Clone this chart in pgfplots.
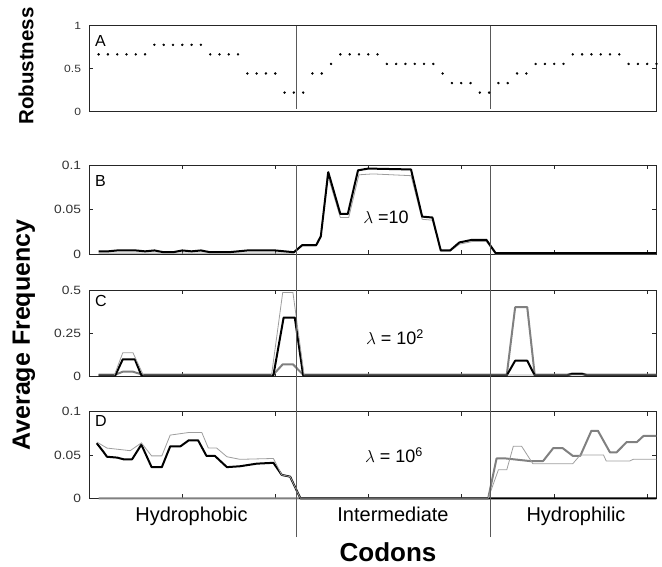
\documentclass[border=0pt]{standalone}
\usepackage{pgfplots}
\pgfplotsset{compat=1.18}
\usepackage{fontspec}
\setmainfont{Liberation Sans}
\definecolor{lg}{gray}{0.62}
\definecolor{mg}{gray}{0.5}
\tikzset{sep/.style={black!65, line width=0.8pt}}
\pgfplotsset{
  panel/.style={
    scale only axis, width=567.2pt, xmin=0, xmax=61, clip=false,
    anchor=north west,
    axis line style={line width=1pt, black!85},
    every tick/.style={black!85, line width=0.8pt},
    major tick length=4pt,
    tick align=inside,
    xtick={10,20,30,40,50,60}, xticklabels={},
    xtick pos=both, ytick pos=both, yticklabel pos=left,
    /pgf/number format/assume math mode=true,
    yticklabel style={font=\fontsize{12}{12}\selectfont, text=black!80, xscale=1.15, inner xsep=0pt, xshift=-7pt},
  },
}
\begin{document}
\begin{tikzpicture}
\useasboundingbox (0pt,0pt) rectangle (662pt,-566pt);
% ---------------- A
\begin{axis}[panel, at={(89.3pt,-25.7pt)}, height=86pt, ymin=0, ymax=1,
  ytick={0,0.5,1}, yticklabels={0,0.5,1}, xtick=\empty,
  yticklabel style={font=\fontsize{10.5}{10.5}\selectfont}]
\addplot[only marks, mark=*, mark size=1pt, black] coordinates {
(1,0.6667)(2,0.6667)(3,0.6667)(4,0.6667)(5,0.6667)(6,0.6667)
(7,0.7778)(8,0.7778)(9,0.7778)(10,0.7778)(11,0.7778)(12,0.7778)
(13,0.6667)(14,0.6667)(15,0.6667)(16,0.6667)
(17,0.4444)(18,0.4444)(19,0.4444)(20,0.4444)
(21,0.2222)(22,0.2222)(23,0.2222)
(24,0.4444)(25,0.4444)(26,0.5556)
(27,0.6667)(28,0.6667)(29,0.6667)(30,0.6667)(31,0.6667)
(32,0.5556)(33,0.5556)(34,0.5556)(35,0.5556)(36,0.5556)(37,0.5556)
(38,0.4444)(39,0.3333)(40,0.3333)(41,0.3333)(42,0.2222)(43,0.2222)
(44,0.3333)(45,0.3333)(46,0.4444)(47,0.4444)
(48,0.5556)(49,0.5556)(50,0.5556)(51,0.5556)
(52,0.6667)(53,0.6667)(54,0.6667)(55,0.6667)(56,0.6667)(57,0.6667)
(58,0.5556)(59,0.5556)(60,0.5556)(61,0.5556)};
\draw[sep] (axis cs:22.3,1) -- (axis cs:22.3,0.03);
\draw[sep] (axis cs:43.1,1) -- (axis cs:43.1,0.03);
\node[anchor=north west, inner sep=0pt, font=\fontsize{16}{16}\selectfont, xshift=5.7pt, yshift=-9.3pt] at (rel axis cs:0,1) {A};
\end{axis}
% ---------------- B
\begin{axis}[panel, at={(89.3pt,-165pt)}, height=89pt, ymin=0, ymax=0.1,
  ytick={0,0.05,0.1}, yticklabels={0,0.05,0.1}]
\addplot[lg, line width=0.8pt] coordinates {
(1,0.001)(22,0.001)(22.9,0.009)(24.4,0.009)(24.9,0.018)(25.6,0.090)(27,0.041)(27.9,0.041)(29,0.089)(30.5,0.090)(34.6,0.088)(35.8,0.039)(36.9,0.038)(37.8,0.003)(38.8,0.003)(39.8,0.011)(41.2,0.014)(42.7,0.014)(43.7,0.000)(61,0.000)};
\addplot[black, line width=2pt, line join=round] coordinates {
(1,0.003)(2,0.003)(3,0.004)(4,0.004)(5,0.004)(6,0.003)(7,0.004)(8,0.002)(9,0.002)(10,0.004)(11,0.003)(12,0.004)(13,0.002)(14,0.002)(15,0.002)(16,0.003)(17,0.004)(18,0.004)(19,0.004)(20,0.004)(21,0.003)(22,0.002)
(22.9,0.010)(24.4,0.010)(24.9,0.020)(25.7,0.092)(27,0.045)(27.8,0.045)(28.9,0.094)(30,0.096)(34.6,0.095)(35.8,0.042)(36.9,0.041)(37.8,0.004)(38.8,0.004)(39.8,0.013)(41.2,0.016)(42.7,0.016)(43.7,0.001)(50,0.001)(61,0.001)};
\node[anchor=north west, inner sep=0pt, font=\fontsize{16}{16}\selectfont, xshift=5.7pt, yshift=-10pt] at (rel axis cs:0,1) {B};
\end{axis}
% ---------------- C
\begin{axis}[panel, at={(89.3pt,-290pt)}, height=86pt, ymin=0, ymax=0.5,
  ytick={0,0.25,0.5}, yticklabels={0,0.25,0.5}]
\addplot[mg, line width=2pt, line join=round] coordinates {
(1,0.008)(2.8,0.008)(3.6,0.025)(4.7,0.025)(5.7,0.008)(19.8,0.008)(20.8,0.068)(21.9,0.068)(23,0.008)(44.9,0.008)(45.8,0.40)(47.1,0.40)(47.9,0.008)(51.4,0.008)(51.9,0.014)(53,0.014)(53.5,0.008)(61,0.008)};
\addplot[black, line width=2pt, line join=round] coordinates {
(1,0.004)(2.8,0.004)(3.6,0.097)(4.9,0.097)(5.6,0.004)(19.8,0.004)(20.9,0.34)(22.1,0.34)(23,0.004)(44.9,0.004)(45.8,0.089)(47.1,0.089)(47.9,0.004)(51.4,0.004)(51.9,0.012)(53,0.012)(53.5,0.004)(61,0.004)};
\addplot[lg, line width=0.8pt] coordinates {
(1,0.006)(2.7,0.006)(3.6,0.135)(4.7,0.135)(5.8,0.006)(19.6,0.006)(20.8,0.485)(21.9,0.485)(23.1,0.006)(61,0.006)};
\node[anchor=north west, inner sep=0pt, font=\fontsize{16}{16}\selectfont, xshift=5.7pt, yshift=-5pt] at (rel axis cs:0,1) {C};
\end{axis}
% ---------------- D
\begin{axis}[panel, at={(89.3pt,-411.7pt)}, height=86.6pt, ymin=0, ymax=0.1,
  ytick={0,0.05,0.1}, yticklabels={0,0.05,0.1}]
\addplot[mg, line width=2pt, line join=round] coordinates {
(1,0)(42.9,0)(43.8,0.046)(44.8,0.046)(47.4,0.043)(48.8,0.043)(49.9,0.058)(50.9,0.058)(52,0.049)(52.8,0.049)(54,0.078)(54.7,0.078)(56,0.053)(56.7,0.053)(57.8,0.065)(58.9,0.065)(59.6,0.072)(61,0.072)};
\addplot[black, line width=2pt, line join=round] coordinates {
(0.8,0.0636)(1.5,0.054)(1.9,0.048)(3,0.047)(3.7,0.045)(4.6,0.045)(5.6,0.062)(6.7,0.036)(7.8,0.036)(8.7,0.060)(9.8,0.060)(10.7,0.067)(11.7,0.067)(12.6,0.049)(13.5,0.049)(14.8,0.036)(16.2,0.037)(18,0.040)(19.8,0.041)(20.7,0.027)(21.6,0.025)(22.7,0)(61,0)};
\addplot[lg, line width=0.8pt] coordinates {
(0.8,0.065)(1.9,0.058)(4.4,0.055)(5.6,0.064)(6.7,0.049)(7.8,0.049)(8.7,0.073)(10.7,0.076)(12.1,0.076)(12.8,0.058)(13.7,0.058)(14.8,0.048)(16.2,0.045)(19.8,0.046)(20.7,0.027)(21.6,0.025)(22.7,0)(42.9,0)(44,0.033)(44.9,0.033)(45.6,0.060)(46.5,0.060)(47.7,0.040)(52,0.040)(52.8,0.050)(55.3,0.050)(55.6,0.043)(58.1,0.043)(58.5,0.045)(61,0.045)};
\node[anchor=north west, inner sep=0pt, font=\fontsize{16}{16}\selectfont, xshift=5.7pt, yshift=-4pt] at (rel axis cs:0,1) {D};
\draw[sep] (axis cs:22.3,-0.0447) -- (axis cs:22.3,0.3849);
\draw[sep] (axis cs:43.1,-0.0447) -- (axis cs:43.1,0.3849);
\end{axis}
% ---------------- texts
\node[rotate=90, font=\bfseries\fontsize{20.5}{24}\selectfont] at (26pt,-66pt) {Robustness};
\node[rotate=90, font=\bfseries\fontsize{25}{28}\selectfont] at (24pt,-335pt) {Average Frequency};
\node[anchor=base, font=\fontsize{20}{24}\selectfont] at (191.5pt,-521pt) {Hydrophobic};
\node[anchor=base, font=\fontsize{20}{24}\selectfont] at (393pt,-521pt) {Intermediate};
\node[anchor=base, font=\fontsize{20}{24}\selectfont] at (576pt,-521pt) {Hydrophilic};
\node[anchor=base, font=\bfseries\fontsize{26}{28}\selectfont] at (388pt,-561pt) {Codons};
\node[font=\fontsize{18}{20}\selectfont] at (386pt,-217pt) {$\lambda$ =10};
\node[font=\fontsize{18}{20}\selectfont] at (395pt,-337pt) {$\lambda$ = 10\textsuperscript{2}};
\node[font=\fontsize{18}{20}\selectfont] at (394pt,-455pt) {$\lambda$ = 10\textsuperscript{6}};
\end{tikzpicture}
\end{document}
